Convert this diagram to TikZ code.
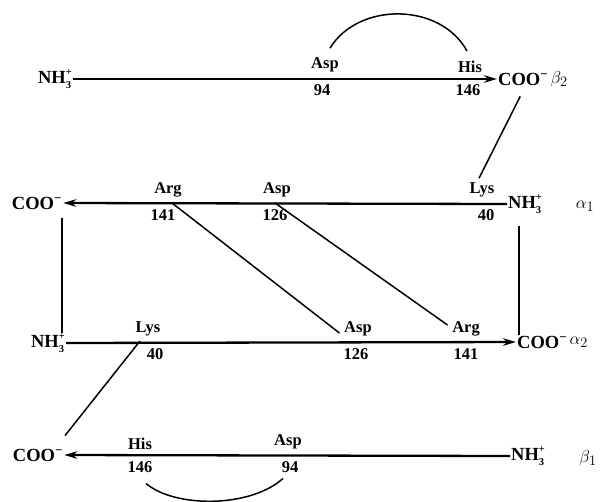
\documentclass[tikz,border=0pt]{standalone}
\usepackage{fontspec}
\setmainfont{Liberation Serif}
\usetikzlibrary{arrows.meta,calc}
\newcommand\smallbf[1]{{\bfseries\fontsize{10.5}{10.5}\selectfont #1}}
\newcommand\nhthree{NH\rlap{\raisebox{7.5pt}{\smallbf{+}}}\raisebox{-5pt}{\smallbf{3}}\kern0.8pt}
\newcommand\coom{COO\textsuperscript{−}}
\begin{document}
\begin{tikzpicture}[x=1pt,y=-1pt,
  term/.style={font=\bfseries\fontsize{18.5}{18.5}\selectfont, inner sep=1pt},
  res/.style={font=\bfseries\fontsize{16.5}{16.5}\selectfont, inner sep=0.5pt},
  gk/.style={font=\fontsize{19}{19}\selectfont, inner sep=1pt},
  chain/.style={line width=2.3pt},
  chainarr/.style={chain, -{Stealth[length=13pt,width=7.5pt]}},
  link/.style={line width=1.5pt}]
\useasboundingbox (0,0) rectangle (613,501);
% beta2
\node[term] (nb2) at (55,79) {\nhthree};
\node[term,anchor=west] (cb2) at (497,79) {\coom};
\node[gk,anchor=west] (gb2) at (cb2.east) {$\beta_2$};
\draw[chainarr] (nb2.east) -- (cb2.west);
\node[res,anchor=south] (aspb2) at (325,73) {Asp};
\node[res,anchor=north] (n94b2) at (322,84) {94};
\node[res,anchor=south] (hisb2) at (470,73) {His};
\node[res,anchor=north] (n146b2) at (468,84) {146};
\draw[link] ($(aspb2.north)+(5,-9)$) .. controls (358,2) and (440,2) .. ($(hisb2.north)+(-3,-9)$);
% alpha1
\node[term] (ca1) at (37,203) {\coom};
\node[term,anchor=west] (na1) at (507,204) {\nhthree};
\node[gk] (ga1) at (585,206) {$\alpha_1$};
\draw[chainarr] (na1.west) -- (ca1.east);
\node[res,anchor=south] (arga1) at (168,198) {Arg};
\node[res,anchor=north] (n141a1) at (163,209) {141};
\node[res,anchor=south] (aspa1) at (277,198) {Asp};
\node[res,anchor=north] (n126a1) at (275,209) {126};
\node[res,anchor=south] (lysa1) at (482,198) {Lys};
\node[res,anchor=north] (n40a1) at (486,209) {40};
% alpha2
\node[term] (na2) at (48,343) {\nhthree};
\node[term,anchor=west] (ca2) at (516,342) {\coom};
\node[gk,anchor=west] (ga2) at (ca2.east) {$\alpha_2$};
\draw[chainarr] (na2.east) -- (ca2.west);
\node[res,anchor=south] (lysa2) at (148,337) {Lys};
\node[res,anchor=north] (n40a2) at (155,348) {40};
\node[res,anchor=south] (aspa2) at (358,337) {Asp};
\node[res,anchor=north] (n126a2) at (356,348) {126};
\node[res,anchor=south] (arga2) at (466,337) {Arg};
\node[res,anchor=north] (n141a2) at (466,348) {141};
% beta1
\node[term] (cb1) at (38,455) {\coom};
\node[term,anchor=west] (nb1) at (510,456) {\nhthree};
\node[gk] (gb1) at (588,458) {$\beta_1$};
\draw[chainarr] (nb1.west) -- (cb1.east);
\node[res,anchor=south] (hisb1) at (140,450) {His};
\node[res,anchor=north] (n146b1) at (140,461) {146};
\node[res,anchor=south] (aspb1) at (288,450) {Asp};
\node[res,anchor=north] (n94b1) at (290,461) {94};
% links
\draw[link] ($(cb2.south)+(-3,10)$) -- ($(lysa1.north)+(-3,-4)$);
\draw[link] ($(arga1.south)+(4,5)$) -- ($(aspa2.west)+(-4,4)$);
\draw[link] ($(aspa1.south)+(-2,5)$) -- ($(arga2.west)+(-4,-4)$);
\coordinate (lv) at ($(ca1.south east)+(-1,8)$);
\draw[link] (lv) -- (lv |- na2.north);
\coordinate (rv) at ($(na1.south west)+(12,12)$);
\draw[link] (rv) -- (rv |- ca2.north);
\draw[link] ($(lysa2.south)+(-8,4)$) -- ($(cb1.north)+(27,-12)$);
\draw[link] ($(n146b1.south)+(6,10)$) .. controls (175,508) and (250,508) .. ($(n94b1.south)+(-7,5)$);
\end{tikzpicture}
\end{document}
